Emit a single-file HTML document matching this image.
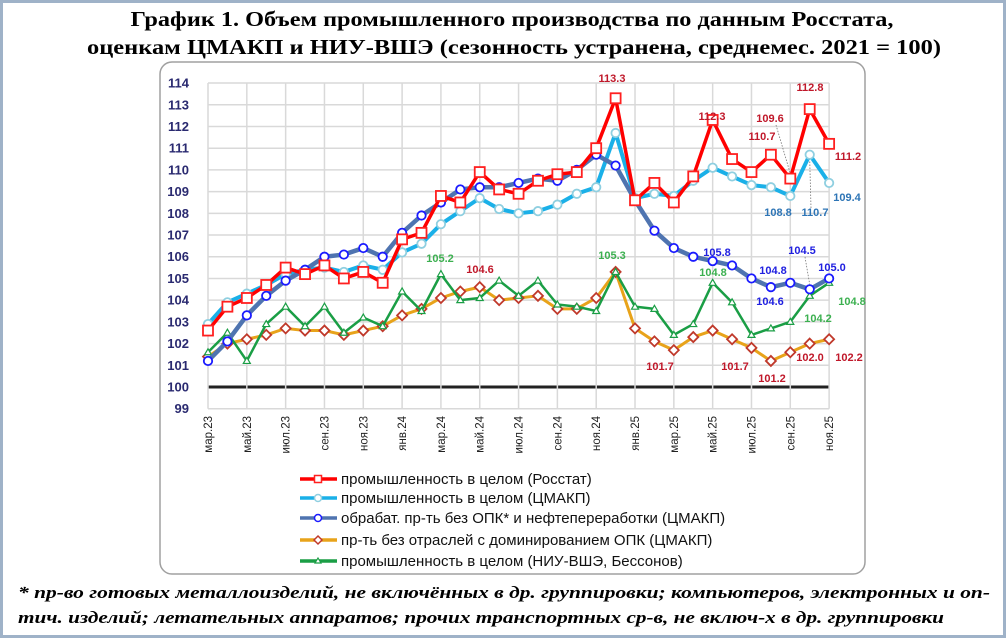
<!DOCTYPE html>
<html><head><meta charset="utf-8"><style>
html,body{margin:0;padding:0;background:#fff;}
svg{display:block;}
</style></head><body>
<svg id="chart" width="1006" height="638" viewBox="0 0 1006 638" xmlns="http://www.w3.org/2000/svg">
<rect x="1.5" y="1.5" width="1003" height="635" fill="#fff" stroke="#9fb2c8" stroke-width="3"/>
<text x="512" y="26" text-anchor="middle" font-family="Liberation Serif, serif" font-weight="bold" font-size="21" textLength="763" lengthAdjust="spacingAndGlyphs">График 1. Объем промышленного производства по данным Росстата,</text>
<text x="514" y="54" text-anchor="middle" font-family="Liberation Serif, serif" font-weight="bold" font-size="21" textLength="854" lengthAdjust="spacingAndGlyphs">оценкам ЦМАКП и НИУ-ВШЭ (сезонность устранена, среднемес. 2021 = 100)</text>
<rect x="160" y="62" width="705" height="512" rx="12" fill="#fff" stroke="#a0a0a0" stroke-width="1.5"/>
<g id="grid"></g>
<g id="yaxis"></g>
<g id="xaxis"></g>
<g id="series"></g>
<g id="labels"></g>
<g id="legend"></g>
<text x="18" y="598" font-family="Liberation Serif, serif" font-weight="bold" font-style="italic" font-size="17" textLength="972" lengthAdjust="spacingAndGlyphs">* пр-во готовых металлоизделий, не включённых в др. группировки; компьютеров, электронных и оп-</text>
<text x="18" y="623" font-family="Liberation Serif, serif" font-weight="bold" font-style="italic" font-size="17" textLength="926" lengthAdjust="spacingAndGlyphs">тич. изделий; летательных аппаратов; прочих транспортных ср-в, не включ-х в др. группировки</text>
</svg>
<script>
const months = ["мар.23","апр.23","май.23","июн.23","июл.23","авг.23","сен.23","окт.23","ноя.23","дек.23","янв.24","фев.24","мар.24","апр.24","май.24","июн.24","июл.24","авг.24","сен.24","окт.24","ноя.24","дек.24","янв.25","фев.25","мар.25","апр.25","май.25","июн.25","июл.25","авг.25","сен.25","окт.25","ноя.25"];
const yTicks = [99,100,101,102,103,104,105,106,107,108,109,110,111,112,113,114];
const rosstat = [102.6,103.7,104.1,104.7,105.5,105.2,105.6,105.0,105.3,104.8,106.8,107.1,108.8,108.5,109.9,109.1,108.9,109.5,109.8,109.9,111.0,113.3,108.6,109.4,108.5,109.7,112.3,110.5,109.9,110.7,109.6,112.8,111.2];
const cmakp = [102.9,103.9,104.3,104.7,105.2,105.4,105.5,105.3,105.6,105.4,106.2,106.6,107.5,108.1,108.7,108.2,108.0,108.1,108.4,108.9,109.2,111.7,108.7,108.9,108.8,109.5,110.1,109.7,109.3,109.2,108.8,110.7,109.4];
const manuf = [101.2,102.1,103.3,104.2,104.9,105.4,106.0,106.1,106.4,106.0,107.1,107.9,108.5,109.1,109.2,109.2,109.4,109.6,109.5,110.0,110.7,110.2,108.6,107.2,106.4,106.0,105.8,105.6,105.0,104.6,104.8,104.5,105.0];
const nonDefense = [101.4,102.0,102.2,102.4,102.7,102.6,102.6,102.4,102.6,102.8,103.3,103.6,104.1,104.4,104.6,104.0,104.1,104.2,103.6,103.6,104.1,105.3,102.7,102.1,101.7,102.3,102.6,102.2,101.8,101.2,101.6,102.0,102.2];
const hse = [101.6,102.5,101.2,102.9,103.7,102.8,103.7,102.5,103.2,102.8,104.4,103.5,105.2,104.0,104.1,104.9,104.2,104.9,103.8,103.7,103.5,105.3,103.7,103.6,102.4,102.9,104.8,103.9,102.4,102.7,103.0,104.2,104.8];

const NS="http://www.w3.org/2000/svg";
const X0=208, DX=19.41, Y100=387, DY=21.71;
const xs=i=>X0+i*DX;
const ys=v=>Y100-(v-100)*DY;
function mk(tag,attrs,parent){const e=document.createElementNS(NS,tag);for(const k in attrs)e.setAttribute(k,attrs[k]);parent.appendChild(e);return e;}

const grid=document.getElementById('grid');
yTicks.forEach(v=>{
  const l=mk('line',{x1:xs(0),x2:xs(months.length-1),y1:ys(v),y2:ys(v),stroke:v===100?'#222':'#d9d9d9','stroke-width':v===100?3:1.5},grid);
  
  
});
months.forEach((m,i)=>{ if(i%2===0){
  const l=mk('line',{x1:xs(i),x2:xs(i),y1:ys(114),y2:ys(99),stroke:'#d9d9d9','stroke-width':1.5},grid);
  
  
}});
const ya=document.getElementById('yaxis');
yTicks.forEach(v=>{
  const t=mk('text',{x:189,y:ys(v)+4.5,'text-anchor':'end','font-family':'Liberation Sans, sans-serif','font-size':13,'font-weight':'bold',fill:'#2a2a70'},ya);
  t.textContent=v;
  
  
});
const xa=document.getElementById('xaxis');
months.forEach((m,i)=>{ if(i%2===0){
  const t=mk('text',{x:0,y:0,'text-anchor':'end','font-family':'Liberation Sans, sans-serif','font-size':11.5,fill:'#222',transform:`translate(${xs(i)+4},416) rotate(-90)`},xa);
  t.textContent=m;
  
  
}});

const sg=document.getElementById('series');
function series(name,data,lc,lw,marker,mc,mfill){
  const g=mk('g',{},sg);
  
  
  const p=mk('polyline',{points:data.map((v,i)=>xs(i)+','+ys(v)).join(' '),fill:'none',stroke:lc,'stroke-width':lw,'stroke-linejoin':'round'},g);
  
  
  data.forEach((v,i)=>{
    const x=xs(i),y=ys(v);let e;
    if(marker==='sq') e=mk('rect',{x:x-5,y:y-5,width:10,height:10,fill:mfill,stroke:mc,'stroke-width':1.8},g);
    else if(marker==='circ') e=mk('circle',{cx:x,cy:y,r:4.2,fill:mfill,stroke:mc,'stroke-width':1.8},g);
    else if(marker==='dia') e=mk('polygon',{points:`${x},${y-5} ${x+5},${y} ${x},${y+5} ${x-5},${y}`,fill:mfill,stroke:mc,'stroke-width':1.8},g);
    else e=mk('polygon',{points:`${x},${y-3.5} ${x+3.5},${y+2.5} ${x-3.5},${y+2.5}`,fill:mfill,stroke:mc,'stroke-width':1.2},g);
    
    
  });
}
series('series-nondefense',nonDefense,'#e8a31a',3,'dia','#c0392b','#fff');
series('series-hse',hse,'#1a9e45',2.5,'tri','#1a9e45','#fff');
series('series-cmakp',cmakp,'#1ab0e8',4,'circ','#8fcfe0','#fff');
series('series-manuf',manuf,'#4f74b0',4.5,'circ','#1a1aff','#fff');
series('series-rosstat',rosstat,'#ff0000',3.5,'sq','#ff2020','#fff');

const lg=document.getElementById('labels');
const labelDefs=[
 ['113.3',612,82,'#c0182a'],['112.3',712,120,'#c0182a'],['109.6',770,122,'#c0182a'],['110.7',762,140,'#c0182a'],['112.8',810,91,'#c0182a'],['111.2',848,160,'#c0182a'],
 ['108.8',778,216,'#2e75b6'],['110.7',815,216,'#2e75b6'],['109.4',847,201,'#2e75b6'],
 ['105.8',717,256,'#2020e0'],['104.8',773,274,'#2020e0'],['104.5',802,254,'#2020e0'],['105.0',832,271,'#2020e0'],['104.6',770,305,'#2020e0'],
 ['105.2',440,262,'#3cb050'],['105.3',612,259,'#3cb050'],['104.8',713,276,'#3cb050'],['104.2',818,322,'#3cb050'],['104.8',852,305,'#3cb050'],
 ['104.6',480,273,'#c0182a'],['101.7',660,370,'#c0182a'],['101.7',735,370,'#c0182a'],['101.2',772,382,'#c0182a'],['102.0',810,361,'#c0182a'],['102.2',849,361,'#c0182a']
];
labelDefs.forEach(d=>{
  const t=mk('text',{x:d[1],y:d[2],'text-anchor':'middle','font-family':'Liberation Sans, sans-serif','font-weight':'bold','font-size':11,fill:d[3]},lg);
  t.textContent=d[0];
  
  
});
[[776,125,xs(30),ys(rosstat[30])-5],[811,208,xs(31),ys(cmakp[31])+5],[805,257,xs(31),ys(manuf[31])-5]].forEach(a=>{
  const l=mk('line',{x1:a[0],y1:a[1],x2:a[2],y2:a[3],stroke:'#777','stroke-width':0.8,'stroke-dasharray':'1.5,1.5'},lg);
  
  
});

const leg=document.getElementById('legend');
const legendItems=[
 ['промышленность в целом (Росстат)','#ff0000','sq','#ff2020'],
 ['промышленность в целом (ЦМАКП)','#1ab0e8','circ','#8fcfe0'],
 ['обрабат. пр-ть без ОПК* и нефтепереработки (ЦМАКП)','#4f74b0','circ','#1a1aff'],
 ['пр-ть без отраслей с доминированием ОПК (ЦМАКП)','#e8a31a','dia','#c0392b'],
 ['промышленность в целом (НИУ-ВШЭ, Бессонов)','#1a9e45','tri','#1a9e45']
];
const legY=[479,498,518,540,561];
legendItems.forEach((it,k)=>{
  const y=legY[k];
  const g=mk('g',{},leg);
  
  
  mk('line',{x1:300,x2:337,y1:y,y2:y,stroke:it[1],'stroke-width':3.5},g);
  const m=318;
  if(it[2]==='sq') mk('rect',{x:m-3.5,y:y-3.5,width:7,height:7,fill:'#fff',stroke:it[3],'stroke-width':1.5},g);
  else if(it[2]==='circ') mk('circle',{cx:m,cy:y,r:3.5,fill:'#fff',stroke:it[3],'stroke-width':1.5},g);
  else if(it[2]==='dia') mk('polygon',{points:`${m},${y-4} ${m+4},${y} ${m},${y+4} ${m-4},${y}`,fill:'#fff',stroke:it[3],'stroke-width':1.5},g);
  else mk('polygon',{points:`${m},${y-3} ${m+3},${y+2} ${m-3},${y+2}`,fill:'#fff',stroke:it[3],'stroke-width':1.2},g);
  const t=mk('text',{x:341,y:y+5,'font-family':'Liberation Sans, sans-serif','font-size':15,fill:'#111'},g);
  t.textContent=it[0];
  
  
});
</script>
</body></html>
